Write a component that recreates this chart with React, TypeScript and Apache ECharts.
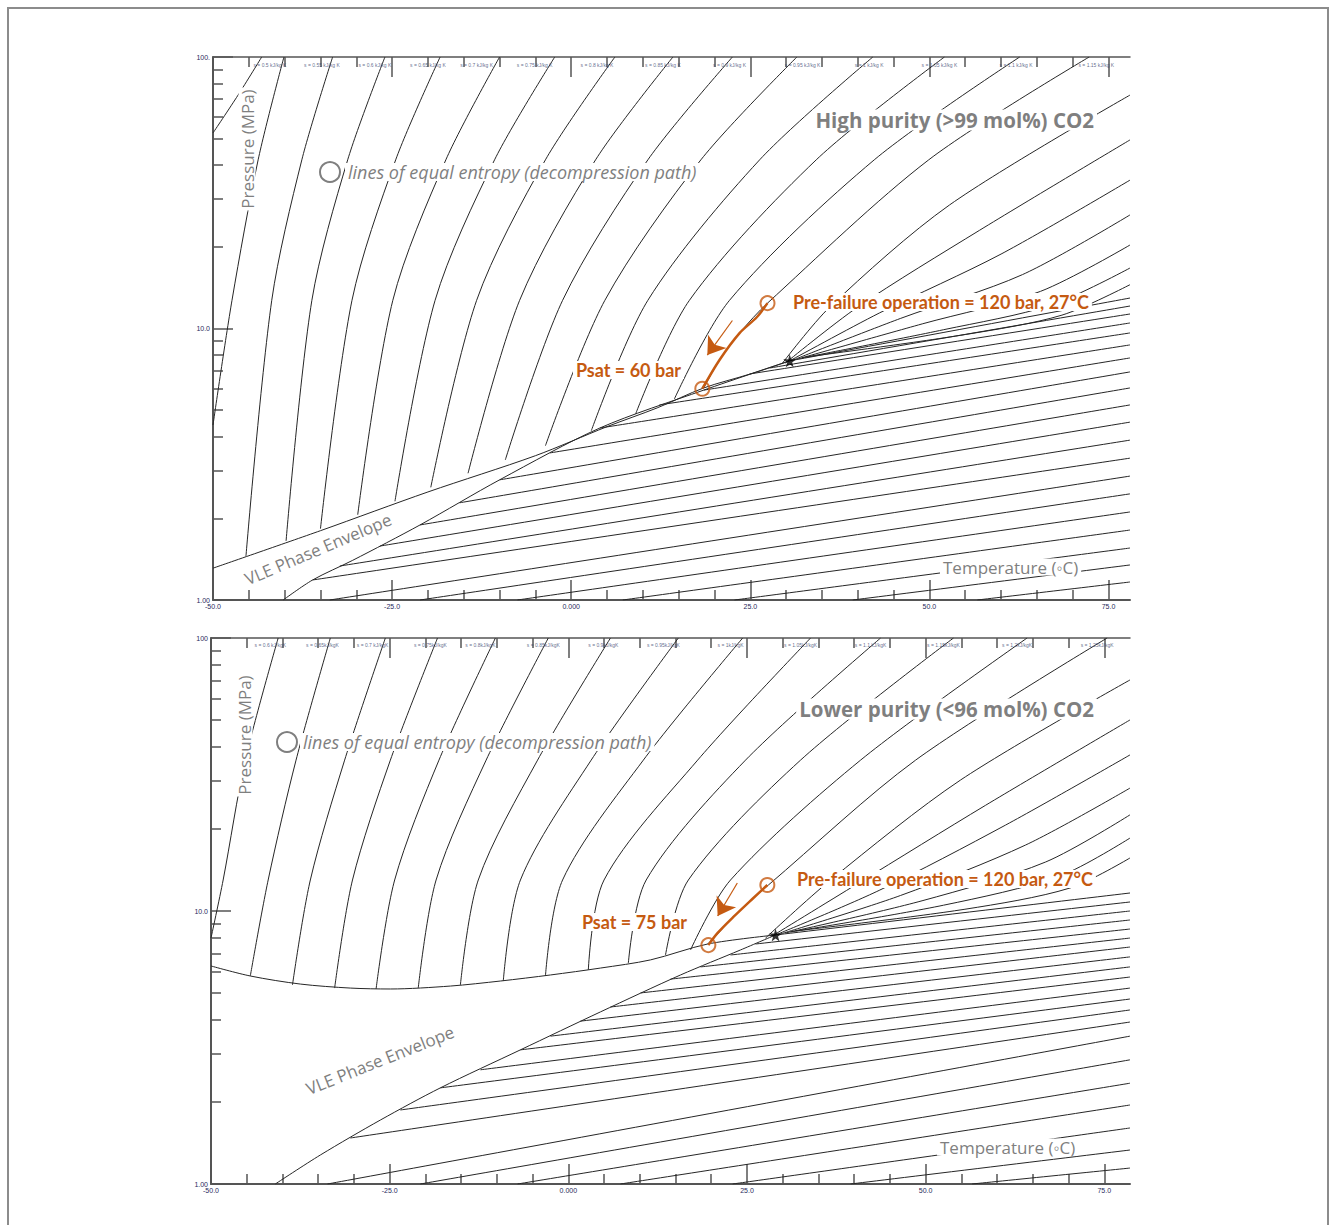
import React, { useEffect, useRef } from 'react';
import * as echarts from 'echarts';

// ---------- axes ----------
const X_MAJOR = [-50, -25, 0, 25, 50, 75];
const X_MAJOR_LABELS = ['-50.0', '-25.0', '0.000', '25.0', '50.0', '75.0'];
const X_MINOR = [-45, -40, -35, -30, -20, -15, -10, -5, 5, 10, 15, 20, 30, 35, 40, 45, 55, 60, 65, 70];
const Y_MAJOR = [1, 10, 100];
const Y_MINOR = [2, 3, 4, 5, 6, 7, 8, 9, 20, 30, 40, 50, 60, 70, 80, 90];
const TOP_Y_LABELS = ['1.00', '10.0', '100.'];
const BOT_Y_LABELS = ['1.00', '10.0', '100'];

// ---------- top panel (high purity) : [T degC, P MPa] ----------
const TOP_BUBBLE = [[-50, 1.31], [-35, 1.8], [-20, 2.5], [-5, 3.4], [5, 4.35], [12, 5.1], [18.5, 6.04], [25, 6.8], [30.5, 7.6]];
const TOP_DEW = [[-40.2, 1.0], [-36.1, 1.185], [-30.5, 1.4], [-21.1, 1.89], [-10.0, 2.77], [4.0, 4.3], [18.5, 5.93], [30.5, 7.6]];
const TOP_LIQUID = [
  [[-50, 52.5], [-46.5, 72.4], [-43.2, 100]],
  [[-50, 4.41], [-47.35, 12.7], [-43.7, 41.8], [-40.1, 100]],
  [[-45.4, 1.45], [-41.8, 12.7], [-37.6, 41.8], [-33.3, 100]],
  [[-39.8, 1.65], [-36.2, 12.7], [-31.2, 41.8], [-26.0, 100]],
  [[-35.0, 1.83], [-30.6, 12.7], [-24.5, 41.8], [-18.3, 100]],
  [[-29.8, 2.06], [-24.9, 12.7], [-17.5, 41.8], [-10.0, 100]],
  [[-24.6, 2.31], [-19.0, 12.7], [-10.7, 41.8], [-2.3, 100]],
  [[-19.6, 2.6], [-13.2, 12.7], [-3.6, 41.8], [6.1, 100]],
  [[-14.4, 2.93], [-7.2, 12.7], [3.4, 41.8], [14.2, 100]],
  [[-9.2, 3.28], [-1.2, 12.7], [10.7, 41.8], [22.5, 100]],
  [[-3.6, 3.7], [4.7, 12.7], [18.1, 41.8], [31.5, 100]],
  [[2.8, 4.2], [10.7, 12.7], [26.3, 41.8], [42.1, 100]],
  [[9.0, 4.85], [16.5, 12.7], [34.2, 41.8], [52.1, 100]],
  [[14.4, 5.5], [22.1, 12.7], [42.3, 41.8], [62.6, 100]],
  [[18.5, 6.04], [20.7, 7.66], [23.5, 9.62], [27.4, 12.4], [49.9, 41.8], [72.3, 100]],
];
const TOP_UPPER = [
  [[29.4, 7.4], [36.1, 12.0], [52.8, 28.5], [78, 72.4]],
  [[29.9, 7.46], [40.0, 12.0], [57.0, 23.0], [78, 49.5]],
  [[30.5, 7.6], [43.0, 11.4], [60.0, 18.8], [78, 35.2]],
  [[31.0, 7.66], [46.0, 10.9], [63.0, 15.8], [78, 26.2]],
  [[31.6, 7.72], [49.0, 10.4], [65.5, 13.7], [78, 20.3]],
  [[32.2, 7.79], [52.0, 9.9], [67.0, 12.2], [78, 16.7]],
  [[32.7, 7.85], [55.0, 9.5], [68.5, 11.2], [78, 14.5]],
];
const TOP_VAPOR = [
  [[30.5, 7.6], [78, 12.95]],
  [[27.7, 7.15], [78, 12.1]],
  [[24.9, 6.8], [78, 11.31]],
  [[18.5, 5.93], [78, 10.48]],
  [[12.3, 5.23], [78, 9.63]],
  [[4.0, 4.3], [78, 8.7]],
  [[-3.0, 3.48], [78, 7.79]],
  [[-10.0, 2.77], [78, 6.92]],
  [[-15.6, 2.28], [78, 6.04]],
  [[-21.1, 1.89], [78, 5.23]],
  [[-26.7, 1.58], [78, 4.52]],
  [[-32.3, 1.334], [78, 3.88]],
  [[-36.1, 1.185], [78, 3.33]],
  [[-33.7, 1], [78, 2.86]],
  [[-21.1, 1], [78, 2.46]],
  [[-7.5, 1], [78, 2.11]],
  [[7.2, 1], [78, 1.81]],
  [[22.8, 1], [78, 1.554]],
  [[39.3, 1], [78, 1.346]],
  [[56.7, 1], [78, 1.165]],
];
const TOP_PATH = [[18.3, 6.0], [20.7, 7.66], [23.5, 9.62], [25.9, 11.0], [27.4, 12.4]];
const TOP_MARKERS = [[27.4, 12.4], [18.3, 6.0]];
const TOP_CRIT = [[30.5, 7.6]];
const TOP_ARROW = [[22.5, 10.7], [19.0, 7.98]];
const TOP_S_LABELS = ['s = 0.5 kJ/kg K', 's = 0.55 kJ/kg K', 's = 0.6 kJ/kg K', 's = 0.65 kJ/kg K', 's = 0.7 kJ/kg K', 's = 0.75 kJ/kg K', 's = 0.8 kJ/kg K', 's = 0.85 kJ/kg K', 's = 0.9 kJ/kg K', 's = 0.95 kJ/kg K', 's = 1 kJ/kg K', 's = 1.05 kJ/kg K', 's = 1.1 kJ/kg K', 's = 1.15 kJ/kg K'];
const TOP_S_T = [-42.05, -34.8, -27.4, -20.0, -13.2, -5.1, 3.6, 12.8, 22.1, 32.3, 41.6, 51.4, 62.1, 73.3];
const TOP_S_P = 93.4;

// ---------- bottom panel (lower purity) ----------
const BOT_BUBBLE = [[-50, 6.29], [-44.5, 5.78], [-37.5, 5.4], [-30.5, 5.22], [-24.9, 5.18], [-16.5, 5.31], [-9.5, 5.54], [-2.5, 5.83], [4.5, 6.18], [11.5, 6.62], [19.5, 7.57], [29.0, 8.17]];
const BOT_DEW = [[-41.0, 1.0], [-34.7, 1.277], [-26.3, 1.715], [-17.9, 2.25], [-6.7, 3.1], [4.5, 4.27], [15.7, 5.83], [24.1, 7.2], [29.0, 8.17]];
const BOT_LIQUID = [
  [[-50, 7.96], [-48.3, 12.99], [-45.2, 35.7], [-40.6, 100]],
  [[-44.5, 5.78], [-42.0, 12.99], [-38.1, 35.7], [-33.3, 100]],
  [[-38.6, 5.36], [-36.1, 12.99], [-31.3, 35.7], [-25.6, 100]],
  [[-32.7, 5.22], [-30.2, 12.99], [-24.9, 35.7], [-18.3, 100]],
  [[-26.9, 5.18], [-24.3, 12.99], [-18.1, 35.7], [-10.2, 100]],
  [[-21.0, 5.22], [-18.5, 12.99], [-11.5, 35.7], [-2.8, 100]],
  [[-15.1, 5.36], [-12.6, 12.99], [-4.3, 35.7], [5.9, 100]],
  [[-9.1, 5.54], [-6.7, 12.99], [3.2, 35.7], [15.4, 100]],
  [[-3.2, 5.78], [-0.8, 12.99], [10.5, 35.7], [24.4, 100]],
  [[2.8, 6.08], [5.0, 12.99], [18.1, 35.7], [33.9, 100]],
  [[8.4, 6.45], [10.9, 12.99], [24.8, 35.7], [43.7, 100]],
  [[13.6, 6.9], [16.8, 12.99], [32.5, 35.7], [53.9, 100]],
  [[17.1, 7.2], [22.7, 12.99], [40.9, 35.7], [64.2, 100]],
  [[19.5, 7.57], [21.0, 8.3], [23.1, 9.51], [25.9, 11.16], [28.0, 12.45], [48.6, 35.7], [75.4, 100]],
];
const BOT_UPPER = [
  [[27.6, 7.96], [36.7, 12.99], [54.9, 30.2], [78.6, 70.2]],
  [[28.3, 8.03], [40.5, 12.6], [58.4, 24.4], [78.6, 50.1]],
  [[29.0, 8.17], [43.5, 11.9], [61.2, 20.65], [78.6, 37.3]],
  [[29.7, 8.24], [46.5, 11.4], [64.0, 17.45], [78.6, 28.2]],
  [[30.4, 8.31], [49.5, 10.9], [66.8, 15.12], [78.6, 22.5]],
  [[31.1, 8.38], [52.5, 10.5], [68.8, 13.44], [78.6, 18.5]],
  [[31.8, 8.45], [55.5, 10.15], [70.2, 12.14], [78.6, 15.64]],
];
const BOT_VAPOR = [
  [[29.0, 8.17], [78.6, 11.64]],
  [[26.2, 7.57], [78.6, 10.79]],
  [[22.7, 6.9], [78.6, 10.0]],
  [[18.5, 6.24], [78.6, 9.27]],
  [[14.3, 5.63], [78.6, 8.59]],
  [[10.1, 5.01], [78.6, 7.96]],
  [[5.9, 4.45], [78.6, 7.38]],
  [[1.7, 3.95], [78.6, 6.79]],
  [[-2.5, 3.48], [78.6, 6.24]],
  [[-6.7, 3.1], [78.6, 5.73]],
  [[-12.3, 2.62], [78.6, 5.22]],
  [[-17.9, 2.25], [78.6, 4.76]],
  [[-23.5, 1.867], [78.6, 4.34]],
  [[-30.5, 1.474], [78.6, 3.92]],
  [[-33.7, 1], [78.6, 3.48]],
  [[-20.7, 1], [78.6, 2.85]],
  [[-7.1, 1], [78.6, 2.34]],
  [[7.3, 1], [78.6, 1.947]],
  [[23.0, 1], [78.6, 1.604]],
  [[39.5, 1], [78.6, 1.332]],
  [[56.5, 1], [78.6, 1.144]],
];
const BOT_PATH = [[19.6, 7.5], [20.9, 8.31], [23.1, 9.51], [25.9, 11.16], [27.85, 12.45]];
const BOT_MARKERS = [[27.85, 12.45], [19.6, 7.5]];
const BOT_CRIT = [[29.0, 8.17]];
const BOT_ARROW = [[23.65, 12.66], [20.9, 9.59]];
const BOT_S_LABELS = ['s = 0.6 kJ/kgK', 's = 0.65kJ/kgK', 's = 0.7 kJ/kgK', 's = 0.75kJ/kgK', 's = 0.8kJ/kgK', 's = 0.85kJ/kgK', 's = 0.9kJ/kgK', 's = 0.95kJ/kgK', 's = 1kJ/kgK', 's = 1.05kJ/kgK', 's = 1.1 kJ/kgK', 's = 1.15kJ/kgK', 's = 1.2kJ/kgK', 's = 1.25kJ/kgK'];
const BOT_S_T = [-41.7, -34.4, -27.4, -19.3, -12.3, -3.5, 4.9, 13.3, 22.7, 32.5, 42.3, 52.5, 62.8, 74.0];
const BOT_S_P = 94.2;

// ---------- texts ----------
const TXT_PRESSURE = 'Pressure (MPa)';
const TXT_ENTROPY = 'lines of equal entropy (decompression path)';
const TXT_TOP_TITLE = 'High purity (>99 mol%) CO2';
const TXT_BOT_TITLE = 'Lower purity (<96 mol%) CO2';
const TXT_VLE = 'VLE Phase Envelope';
const TXT_TEMP = 'Temperature (\u25E6C)';
const TXT_PREFAIL = 'Pre-failure operation = 120 bar, 27\u00B0C';
const TXT_TOP_PSAT = 'Psat = 60 bar';
const TXT_BOT_PSAT = 'Psat = 75 bar';

const ORANGE = '#C55A11';
const GRAY = '#7f7f7f';
const AXIS = '#555555';
const TICK_LABEL = '#1f2a5c';
const LINE = '#262626';
const STAR = 'path://M50,0 L61,35 L98,35 L68,57 L79,91 L50,70 L21,91 L32,57 L2,35 L39,35 Z';

function xAxesFor(g: number, xMax: number) {
  const base = { gridIndex: g, type: 'value', min: -50, max: xMax, splitLine: { show: false }, minorTick: { show: false } };
  const tickStyle = { color: AXIS, width: 1.5 };
  return [
    {
      ...base, position: 'bottom',
      axisLine: { show: true, onZero: false, lineStyle: { color: AXIS, width: 2 } },
      axisTick: { show: true, inside: true, length: 20, customValues: X_MAJOR, lineStyle: tickStyle },
      axisLabel: {
        show: true, customValues: X_MAJOR, margin: 3, fontSize: 7, color: TICK_LABEL, fontFamily: 'Liberation Sans',
        formatter: (v: number) => X_MAJOR_LABELS[X_MAJOR.indexOf(Math.round(v))] ?? '',
      },
    },
    {
      ...base, position: 'bottom',
      axisLine: { show: false, onZero: false },
      axisTick: { show: true, inside: true, length: 10, customValues: X_MINOR, lineStyle: tickStyle },
      axisLabel: { show: false },
    },
    {
      ...base, position: 'top',
      axisLine: { show: true, onZero: false, lineStyle: { color: AXIS, width: 1.5 } },
      axisTick: { show: true, inside: true, length: 20, customValues: X_MAJOR, lineStyle: tickStyle },
      axisLabel: { show: false },
    },
    {
      ...base, position: 'top',
      axisLine: { show: false, onZero: false },
      axisTick: { show: true, inside: true, length: 10, customValues: X_MINOR, lineStyle: tickStyle },
      axisLabel: { show: false },
    },
  ];
}

function yAxesFor(g: number, labels: string[]) {
  const base = { gridIndex: g, type: 'log', logBase: 10, min: 1, max: 100, position: 'left', splitLine: { show: false }, minorTick: { show: false } };
  const tickStyle = { color: AXIS, width: 1.5 };
  return [
    {
      ...base,
      axisLine: { show: true, onZero: false, lineStyle: { color: AXIS, width: 2 } },
      axisTick: { show: true, inside: true, length: 20, customValues: Y_MAJOR, lineStyle: tickStyle },
      axisLabel: {
        show: true, customValues: Y_MAJOR, margin: 3, fontSize: 7, color: TICK_LABEL, fontFamily: 'Liberation Sans',
        formatter: (v: number) => labels[Math.round(Math.log10(v))] ?? '',
      },
    },
    {
      ...base,
      axisLine: { show: false, onZero: false },
      axisTick: { show: true, inside: true, length: 10, customValues: Y_MINOR, lineStyle: tickStyle },
      axisLabel: { show: false },
    },
  ];
}

function curveSeries(lines: number[][][], xi: number, yi: number, width = 1) {
  return lines.map((pts) => ({
    type: 'line', xAxisIndex: xi, yAxisIndex: yi, data: pts, symbol: 'none', showSymbol: false,
    smooth: 0.3, silent: true, z: 2,
    lineStyle: { color: LINE, width },
  }));
}

function overlaySeries(xi: number, yi: number, path: number[][], markers: number[][], crit: number[][], arrow: number[][], sT: number[], sP: number, sLabels: string[]) {
  return [
    {
      type: 'line', xAxisIndex: xi, yAxisIndex: yi, data: path, symbol: 'none', smooth: 0.3, silent: true, z: 6,
      lineStyle: { color: ORANGE, width: 2.5 },
    },
    {
      type: 'scatter', xAxisIndex: xi, yAxisIndex: yi, data: markers, symbol: 'circle', symbolSize: 14, silent: true, z: 7,
      itemStyle: { color: 'rgba(255,255,255,0)', borderColor: ORANGE, borderWidth: 2 },
    },
    {
      type: 'scatter', xAxisIndex: xi, yAxisIndex: yi, data: crit, symbol: STAR, symbolSize: 13, silent: true, z: 7,
      itemStyle: { color: '#000' },
    },
    {
      type: 'lines', coordinateSystem: 'cartesian2d', xAxisIndex: xi, yAxisIndex: yi, silent: true, z: 7,
      symbol: ['none', 'arrow'], symbolSize: 17,
      lineStyle: { color: ORANGE, width: 1.2, opacity: 1 },
      data: [{ coords: arrow }],
    },
    {
      type: 'scatter', xAxisIndex: xi, yAxisIndex: yi, symbolSize: 1, silent: true, z: 8,
      itemStyle: { color: 'rgba(0,0,0,0)' },
      data: sT.map((t, i) => ({ value: [t, sP], name: sLabels[i] })),
      label: { show: true, position: 'inside', formatter: '{b}', fontSize: 5, color: '#3a4670', fontFamily: 'Liberation Sans' },
    },
  ];
}

function txt(text: string, x: number, y: number, opts: any = {}) {
  return {
    type: 'text', x, y, rotation: opts.rotation ?? 0, z: 20, silent: true,
    style: {
      text, fill: opts.fill ?? GRAY, fontSize: opts.fontSize ?? 17,
      fontFamily: opts.fontFamily ?? 'Open Sans', fontWeight: opts.fontWeight ?? 'normal',
      fontStyle: opts.fontStyle ?? 'normal', align: opts.align ?? 'left', verticalAlign: 'middle',
      backgroundColor: '#ffffff', padding: opts.padding ?? [0, 3],
    },
  };
}

function buildOption() {
  const series = [
    ...curveSeries([TOP_BUBBLE, TOP_DEW], 0, 0),
    ...curveSeries(TOP_LIQUID, 0, 0),
    ...curveSeries(TOP_UPPER, 0, 0),
    ...curveSeries(TOP_VAPOR, 0, 0),
    ...overlaySeries(0, 0, TOP_PATH, TOP_MARKERS, TOP_CRIT, TOP_ARROW, TOP_S_T, TOP_S_P, TOP_S_LABELS),
    ...curveSeries([BOT_BUBBLE, BOT_DEW], 4, 2),
    ...curveSeries(BOT_LIQUID, 4, 2),
    ...curveSeries(BOT_UPPER, 4, 2),
    ...curveSeries(BOT_VAPOR, 4, 2),
    ...overlaySeries(4, 2, BOT_PATH, BOT_MARKERS, BOT_CRIT, BOT_ARROW, BOT_S_T, BOT_S_P, BOT_S_LABELS),
  ];
  const bold = { fontWeight: 'bold', fontFamily: 'Lato', fill: ORANGE, fontSize: 18 };
  const graphic = [
    { type: 'rect', shape: { x: 8, y: 8, width: 1320, height: 1240 }, style: { fill: 'none', stroke: '#8c8c8c', lineWidth: 2 }, silent: true, z: -1 },
    // top panel
    txt(TXT_PRESSURE, 247, 149, { rotation: Math.PI / 2, align: 'center', padding: [0, 2] }),
    txt(TXT_ENTROPY, 345, 172, { fontStyle: 'italic', fontSize: 18 }),
    { type: 'circle', shape: { cx: 330, cy: 172, r: 10 }, style: { fill: '#fff', stroke: GRAY, lineWidth: 2 }, silent: true, z: 21 },
    txt(TXT_TOP_TITLE, 1097, 120, { fontWeight: 'bold', fontSize: 20.5, align: 'right' }),
    txt(TXT_VLE, 318, 549, { rotation: 0.40, align: 'center' }),
    txt(TXT_TEMP, 940, 567),
    txt(TXT_PREFAIL, 790, 302, bold),
    txt(TXT_TOP_PSAT, 684, 370, { ...bold, align: 'right' }),
    // bottom panel
    txt(TXT_PRESSURE, 244, 735, { rotation: Math.PI / 2, align: 'center', padding: [0, 2] }),
    txt(TXT_ENTROPY, 300, 742, { fontStyle: 'italic', fontSize: 18 }),
    { type: 'circle', shape: { cx: 287, cy: 742, r: 10 }, style: { fill: '#fff', stroke: GRAY, lineWidth: 2 }, silent: true, z: 21 },
    txt(TXT_BOT_TITLE, 1097, 709, { fontWeight: 'bold', fontSize: 20.5, align: 'right' }),
    txt(TXT_VLE, 380, 1060, { rotation: 0.38, align: 'center' }),
    txt(TXT_TEMP, 937, 1147),
    txt(TXT_PREFAIL, 794, 879, bold),
    txt(TXT_BOT_PSAT, 690, 922, { ...bold, align: 'right' }),
  ];
  return {
    animation: false,
    backgroundColor: '#ffffff',
    grid: [
      { left: 213, top: 57, width: 917, height: 543, outerBoundsMode: 'none', containLabel: false },
      { left: 211, top: 638, width: 919, height: 546, outerBoundsMode: 'none', containLabel: false },
    ],
    xAxis: [...xAxesFor(0, 78), ...xAxesFor(1, 78.6)],
    yAxis: [...yAxesFor(0, TOP_Y_LABELS), ...yAxesFor(1, BOT_Y_LABELS)],
    series,
    graphic: { elements: graphic },
  };
}

export default function App() {
  const ref = useRef<HTMLDivElement>(null);
  useEffect(() => {
    if (!ref.current) return;
    const chart = echarts.init(ref.current, null, { renderer: 'svg' });
    chart.setOption(buildOption() as any);
    return () => chart.dispose();
  }, []);
  return <div ref={ref} style={{ position: 'absolute', left: 0, top: 0, width: 1335, height: 1225, background: '#fff' }} />;
}
